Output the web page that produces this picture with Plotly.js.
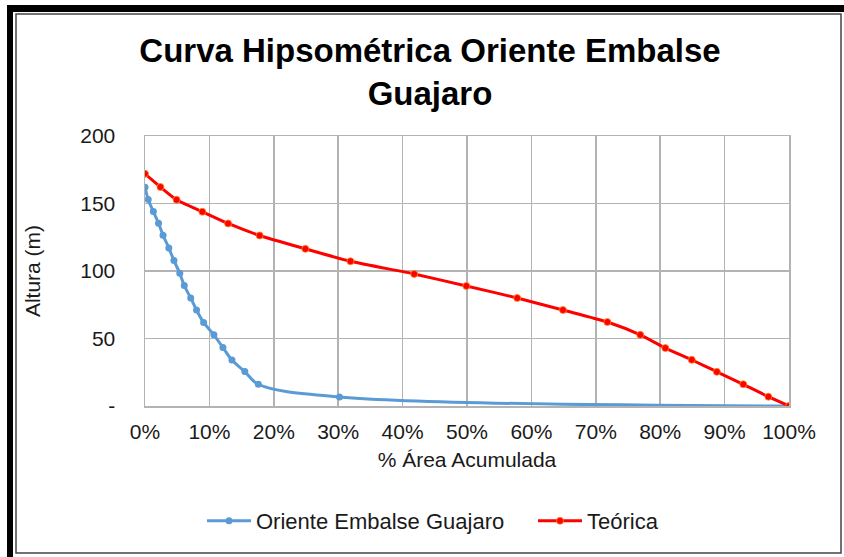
<!DOCTYPE html>
<html>
<head>
<meta charset="utf-8">
<script src="https://cdn.plot.ly/plotly-3.0.1.min.js"></script>
<style>html,body{margin:0;padding:0;background:#fff;}#chart{width:844px;height:557px;}</style>
</head>
<body>
<div id="chart"></div>
<script>
// Data (x = cumulative area fraction, y = height in m)
const obsArea = [0.000, 0.005, 0.013, 0.021, 0.028, 0.037, 0.045, 0.054, 0.061, 0.071, 0.080, 0.091, 0.107, 0.121, 0.135, 0.155, 0.176, 0.302, 1.000];
const obsHeight = [162, 153, 144, 135.4, 126.5, 117, 107.7, 98.3, 89.2, 80, 71.1, 61.9, 52.7, 43.3, 34, 25.5, 16.1, 6.7, 0];
const teoArea = [0.000, 0.024, 0.049, 0.089, 0.129, 0.178, 0.249, 0.319, 0.418, 0.499, 0.578, 0.649, 0.718, 0.769, 0.808, 0.849, 0.888, 0.929, 0.968, 1.000];
const teoHeight = [172, 162.2, 152.8, 143.9, 135.2, 126.3, 116.4, 107.2, 97.8, 88.9, 80, 71.1, 62.2, 52.7, 42.9, 34.2, 25.3, 16.1, 6.9, 0];
const seriesNames = ["Oriente Embalse Guajaro", "Teórica"];
const yTickVals = [0, 50, 100, 150, 200];
const yTickText = ["-", "50", "100", "150", "200"];
const titleText = "Curva Hipsométrica Oriente Embalse<br>Guajaro";
const xTitle = "% Área Acumulada";
const yTitle = "Altura (m)";

const W = 844, H = 557;
const M = {l: 145, r: 55, t: 136, b: 151, pad: 0};
const pw = W - M.l - M.r, ph = H - M.t - M.b;
const px = v => (v - M.l) / pw;
const py = v => (H - M.b - v) / ph;

const font = "Liberation Sans, Arial, sans-serif";
const gridColor = "#b3b3b3";

const traces = [
  {x: obsArea, y: obsHeight, name: seriesNames[0], type: "scatter", mode: "lines+markers", legend: "legend",
   line: {color: "#5b9bd5", width: 3, shape: "spline", smoothing: 1},
   marker: {color: "#5b9bd5", size: 7}},
  {x: teoArea, y: teoHeight, name: seriesNames[1], type: "scatter", mode: "lines+markers", legend: "legend2",
   line: {color: "#ff0000", width: 3, shape: "spline", smoothing: 0.6},
   marker: {color: "#ff0000", size: 7, line: {color: "#ff8c1a", width: 0.8}}}
];

const shapes = [
  {type: "rect", xref: "paper", yref: "paper", x0: px(7), x1: px(13), y0: py(557), y1: py(6), fillcolor: "#000", line: {width: 0}, layer: "above"},
  {type: "rect", xref: "paper", yref: "paper", x0: px(7), x1: px(844), y0: py(12), y1: py(5), fillcolor: "#000", line: {width: 0}, layer: "above"},
  {type: "rect", xref: "paper", yref: "paper", x0: px(16), x1: px(841), y0: py(553), y1: py(14), line: {color: "#444", width: 1.5}, layer: "above"}
];

const legendBase = {orientation: "h", yanchor: "middle", y: py(521), xanchor: "left",
  font: {size: 22, color: "#1a1a1a"}, bgcolor: "rgba(0,0,0,0)", itemwidth: 44};

const layout = {
  width: W, height: H, margin: M,
  paper_bgcolor: "#fff", plot_bgcolor: "#fff",
  font: {family: font, color: "#1a1a1a", size: 21},
  title: {text: titleText, x: 430 / W, xanchor: "center", y: 1 - 62 / H, yanchor: "top", yref: "container",
          font: {family: font, size: 33, color: "#000", weight: "bold"}},
  xaxis: {range: [0, 1], dtick: 0.1, tick0: 0, tickformat: ".0%", showgrid: true, gridcolor: gridColor, gridwidth: 1.5,
          zeroline: false, showline: true, linecolor: gridColor, linewidth: 1.5, mirror: true, ticks: "",
          ticklabelstandoff: 6, automargin: false, fixedrange: true,
          tickfont: {size: 21, color: "#1a1a1a"},
          title: {text: xTitle, standoff: 10, font: {size: 21, color: "#1a1a1a"}}},
  yaxis: {range: [0, 200], tickvals: yTickVals, ticktext: yTickText, showgrid: true, gridcolor: gridColor, gridwidth: 1.5,
          zeroline: false, showline: true, linecolor: gridColor, linewidth: 1.5, mirror: true, ticks: "",
          ticklabelstandoff: 24, automargin: false, fixedrange: true,
          tickfont: {size: 21, color: "#1a1a1a"},
          title: {text: yTitle, standoff: 34, font: {size: 21, color: "#1a1a1a"}}},
  showlegend: true,
  legend: Object.assign({}, legendBase, {x: px(202)}),
  legend2: Object.assign({}, legendBase, {x: px(533)}),
  shapes: shapes
};

Plotly.newPlot("chart", traces, layout, {displayModeBar: false, staticPlot: true});
</script>
</body>
</html>
